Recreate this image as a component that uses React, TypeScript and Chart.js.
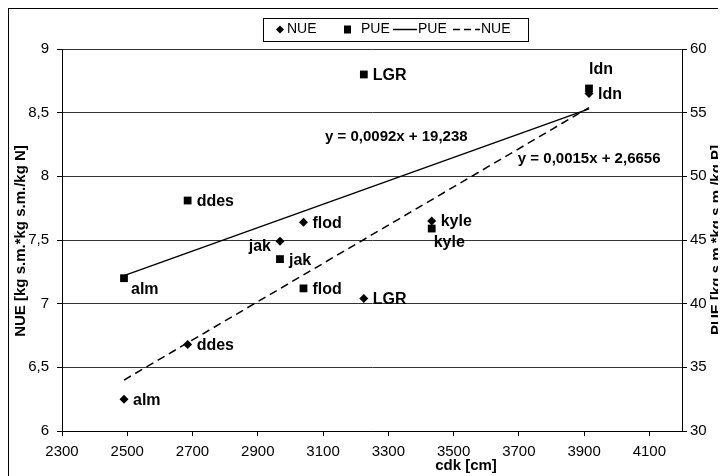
import React, { useEffect, useRef } from 'react';
import { Chart, registerables } from 'chart.js';

Chart.register(...registerables);

// ---- data ----
const names = ['alm', 'ddes', 'jak', 'flod', 'LGR', 'kyle', 'ldn'];
const cdk = [2490, 2685, 2968, 3040, 3225, 3433, 3915];
const nue = [6.25, 6.68, 7.49, 7.64, 7.04, 7.65, 8.65];
const pue = [42.0, 48.1, 43.5, 41.2, 58.0, 45.9, 56.9];
const trendX = [2490, 3915];
const pueTrend = [42.2, 55.3];
const nueTrend = [6.4, 8.54];
const xTicks = [2300, 2500, 2700, 2900, 3100, 3300, 3500, 3700, 3900, 4100];
const eqPueText = 'y = 0,0092x + 19,238';
const eqNueText = 'y = 0,0015x + 2,6656';
const eqPueAt = [3106, 8.31];
const eqNueAt = [3697, 8.14];

// label placement (layout, not data)
const nueLabelPos = ['right', 'right', 'left', 'right', 'right', 'right', 'right'];
const pueLabelPos = ['belowRight', 'right', 'right', 'right', 'right', 'below', 'above'];

const FONT = '"Liberation Sans", Arial, sans-serif';

const overlayPlugin = {
  id: 'overlay',
  afterDatasetsDraw(chart: any) {
    const ctx = chart.ctx as CanvasRenderingContext2D;
    const area = chart.chartArea;
    ctx.save();
    // outer border
    ctx.strokeStyle = '#000';
    ctx.lineWidth = 1;
    ctx.strokeRect(0.5, 0.5, 900, 900);

    // point labels
    ctx.fillStyle = '#000';
    ctx.font = 'bold 16px ' + FONT;
    ctx.textBaseline = 'middle';
    const drawSet = (dsIndex: number, pos: string[]) => {
      const meta = chart.getDatasetMeta(dsIndex);
      meta.data.forEach((pt: any, j: number) => {
        let x = pt.x;
        let y = pt.y;
        let align: CanvasTextAlign = 'left';
        switch (pos[j]) {
          case 'left': align = 'right'; x -= 9; y += 5; break;
          case 'below': x += 2; y += 14; break;
          case 'belowRight': x += 7; y += 11; break;
          case 'above': x += 0; y -= 19; break;
          default: x += 9; y += 1;
        }
        ctx.textAlign = align;
        ctx.fillText(names[j], x, y);
      });
    };
    drawSet(0, nueLabelPos);
    drawSet(1, pueLabelPos);

    // equations
    const xs = chart.scales.x;
    const ys = chart.scales.y;
    ctx.font = 'bold 15px ' + FONT;
    ctx.textAlign = 'left';
    ctx.fillText(eqPueText, xs.getPixelForValue(eqPueAt[0]), ys.getPixelForValue(eqPueAt[1]));
    ctx.fillText(eqNueText, xs.getPixelForValue(eqNueAt[0]), ys.getPixelForValue(eqNueAt[1]));

    // axis titles
    ctx.font = 'bold 15px ' + FONT;
    const midY = (area.top + area.bottom) / 2;
    ctx.save();
    ctx.translate(13, midY + 1);
    ctx.rotate(-Math.PI / 2);
    ctx.textAlign = 'center';
    ctx.fillText('NUE [kg s.m.*kg s.m./kg N]', 0, 0);
    ctx.restore();
    ctx.save();
    ctx.translate(709, midY);
    ctx.rotate(-Math.PI / 2);
    ctx.textAlign = 'center';
    ctx.fillText('PUE [kg s.m.*kg s.m./kg P]', 0, 0);
    ctx.restore();
    ctx.textAlign = 'center';
    ctx.fillText('cdk [cm]', 458, 458);

    // legend
    const ly = 21.5;
    ctx.strokeRect(255.5, 10.5, 265, 23);
    ctx.font = '14px ' + FONT;
    ctx.textAlign = 'left';
    // diamond
    ctx.beginPath();
    ctx.moveTo(272, ly - 4);
    ctx.lineTo(276, ly);
    ctx.lineTo(272, ly + 4);
    ctx.lineTo(268, ly);
    ctx.closePath();
    ctx.fill();
    ctx.fillText('NUE', 279, ly);
    // square
    ctx.fillRect(336, ly - 4, 7, 8);
    ctx.fillText('PUE', 353, ly);
    // solid line
    ctx.lineWidth = 1.5;
    ctx.beginPath();
    ctx.moveTo(385, ly);
    ctx.lineTo(409, ly);
    ctx.stroke();
    ctx.fillText('PUE', 410, ly);
    // dashed line
    ctx.setLineDash([7, 4]);
    ctx.beginPath();
    ctx.moveTo(445, ly);
    ctx.lineTo(472, ly);
    ctx.stroke();
    ctx.setLineDash([]);
    ctx.fillText('NUE', 473, ly);
    ctx.restore();
  },
};

export default function App() {
  const ref = useRef<HTMLCanvasElement | null>(null);
  useEffect(() => {
    if (!ref.current) return;
    const tickFont = { family: FONT, size: 15 };
    const chart = new Chart(ref.current, {
      type: 'scatter',
      data: {
        datasets: [
          {
            label: 'NUE',
            data: cdk.map((x, i) => ({ x, y: nue[i] })),
            yAxisID: 'y',
            pointStyle: 'rectRot',
            pointRadius: 4.5,
            backgroundColor: '#000',
            borderColor: '#000',
            borderWidth: 0,
          },
          {
            label: 'PUE',
            data: cdk.map((x, i) => ({ x, y: pue[i] })),
            yAxisID: 'y1',
            pointStyle: 'rect',
            pointRadius: 5.5,
            backgroundColor: '#000',
            borderColor: '#000',
            borderWidth: 0,
          },
          {
            label: 'PUE trend',
            data: trendX.map((x, i) => ({ x, y: pueTrend[i] })),
            yAxisID: 'y1',
            showLine: true,
            pointRadius: 0,
            borderColor: '#000',
            borderWidth: 1.5,
          },
          {
            label: 'NUE trend',
            data: trendX.map((x, i) => ({ x, y: nueTrend[i] })),
            yAxisID: 'y',
            showLine: true,
            pointRadius: 0,
            borderColor: '#000',
            borderWidth: 1.5,
            borderDash: [8, 5],
          },
        ],
      },
      options: {
        animation: false,
        responsive: false,
        events: [],
        layout: { padding: { top: 41, left: 0, right: 0, bottom: 0 } },
        plugins: { legend: { display: false }, tooltip: { enabled: false } },
        scales: {
          x: {
            type: 'linear',
            position: 'bottom',
            min: 2300,
            max: 4200,
            afterBuildTicks: (s: any) => {
              s.ticks = xTicks.map((v) => ({ value: v }));
            },
            afterFit: (s: any) => {
              s.height = 45;
            },
            grid: { drawOnChartArea: false, drawTicks: true, tickLength: 5, color: '#000', tickColor: '#000' },
            border: { color: '#000', width: 1 },
            ticks: { font: tickFont, color: '#000', padding: 7, maxRotation: 0, autoSkip: false, callback: (v: any) => String(v) },
          },
          y: {
            type: 'linear',
            position: 'left',
            min: 6,
            max: 9,
            afterFit: (s: any) => {
              s.width = 54;
            },
            grid: { color: '#333', drawTicks: true, tickLength: 5, tickColor: '#000' },
            border: { color: '#000', width: 1 },
            ticks: { stepSize: 0.5, font: tickFont, color: '#000', padding: 8, callback: (v: any) => String(v).replace('.', ',') },
          },
          y1: {
            type: 'linear',
            position: 'right',
            min: 30,
            max: 60,
            afterFit: (s: any) => {
              s.width = 44;
            },
            grid: { drawOnChartArea: false, drawTicks: true, tickLength: 5, color: '#000', tickColor: '#000' },
            border: { color: '#000', width: 1 },
            ticks: { stepSize: 5, font: tickFont, color: '#000', padding: 3, callback: (v: any) => String(v) },
          },
        },
      },
      plugins: [overlayPlugin],
    } as any);
    return () => chart.destroy();
  }, []);
  return (
    <div style={{ width: 718, height: 468, overflow: 'hidden' }}>
      <canvas ref={ref} width={718} height={468} style={{ display: 'block' }} />
    </div>
  );
}
